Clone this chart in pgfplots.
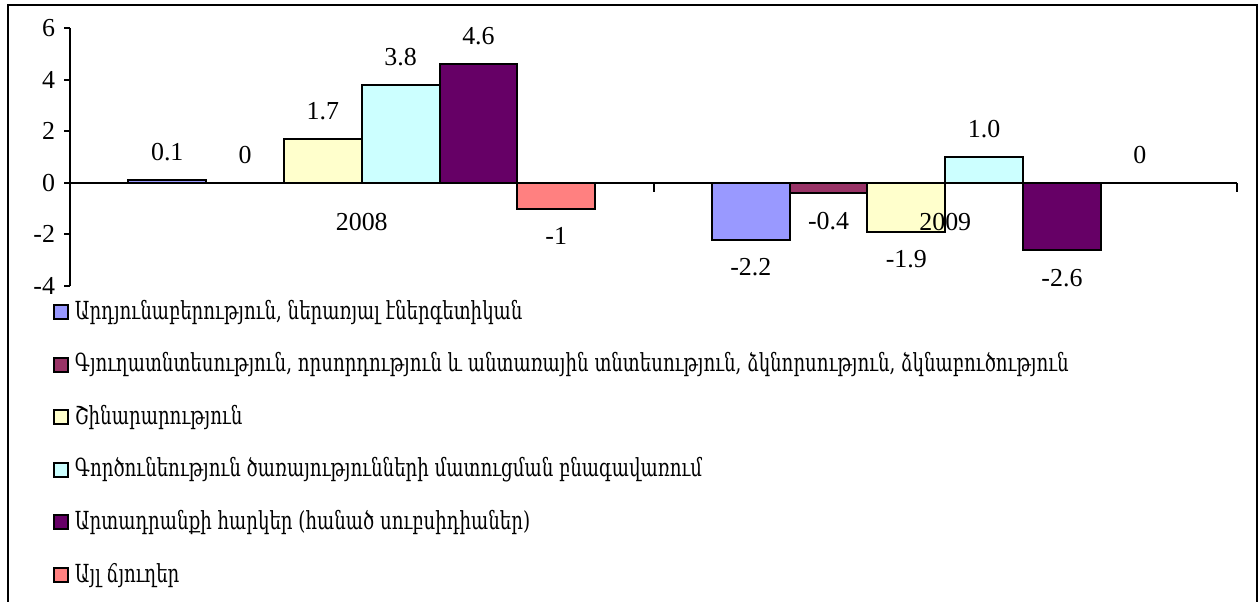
\documentclass[border=0pt]{standalone}
\usepackage{fontspec}
\setmainfont{Liberation Serif}
\newfontfamily\armfont[FakeStretch=0.73]{DejaVu Serif}
\usepackage{pgfplots}
\pgfplotsset{compat=1.18}
\definecolor{c1}{HTML}{9999FF}
\definecolor{c2}{HTML}{993366}
\definecolor{c3}{HTML}{FFFFCC}
\definecolor{c4}{HTML}{CCFFFF}
\definecolor{c5}{HTML}{660066}
\definecolor{c6}{HTML}{FF8080}
\begin{document}
\begin{tikzpicture}
\useasboundingbox (0,0) rectangle (630bp,-301bp);
\draw[line width=1.2bp] (4bp,-310bp) -- (4bp,-2.5bp) -- (628.5bp,-2.5bp) -- (628.5bp,-310bp);
\begin{axis}[
  at={(35bp,-143bp)}, anchor=south west,
  width=583.5bp, height=129bp, scale only axis,
  xmin=0, xmax=2, ymin=-4, ymax=6,
  axis y line*=left, axis x line*=middle,
  axis on top,
  axis line style={-, line width=1bp, black},
  ytick={-4,-2,0,2,4,6},
  yticklabels={{-4},{-2},0,2,4,6},
  y tick style={line width=1bp, black},
  tick align=outside, major tick length=3bp,
  xtick={0.5,1.5}, xticklabels={2008,2009},
  x tick style={draw=none},
  xticklabel style={inner sep=0pt, anchor=north, yshift=-12bp, font=\fontsize{13}{15}\selectfont},
  yticklabel style={font=\fontsize{13}{15}\selectfont, xshift=-1bp},
  ybar, bar width=0.13333,
  point meta=explicit symbolic,
  visualization depends on={rawy \as \rawy},
  nodes near coords,
  every node near coord/.append style={font=\fontsize{13}{15}\selectfont, inner ysep=9bp, inner xsep=0pt, black,
     anchor={\ifdim\rawy pt<0pt north\else south\fi}},
  clip=false,
  legend cell align=left,
  legend image code/.code={\draw[#1, draw=black, line width=1bp] (0bp,-3.5bp) rectangle (7bp,3.5bp);},
  legend style={at={(-0.01457,-0.0504)}, anchor=north west, draw=none, fill=none,
    inner sep=0pt, outer sep=0pt, row sep=13.3bp,
    font=\armfont\fontsize{12.5}{14}\selectfont,
    nodes={inner sep=0pt, text height=10bp, text depth=3bp},
    /tikz/every odd column/.append style={column sep=3bp}},
]
\addplot[fill=c1, draw=black, line width=1bp, bar shift=-0.33333] coordinates {(0.5,0.1) [0.1] (1.5,-2.2) [-2.2]};
\addplot[fill=c2, draw=black, line width=1bp, bar shift=-0.2] coordinates {(0.5,0) [0] (1.5,-0.4) [-0.4]};
\addplot[fill=c3, draw=black, line width=1bp, bar shift=-0.066667] coordinates {(0.5,1.7) [1.7] (1.5,-1.9) [-1.9]};
\addplot[fill=c4, draw=black, line width=1bp, bar shift=0.066667] coordinates {(0.5,3.8) [3.8] (1.5,1.0) [1.0]};
\addplot[fill=c5, draw=black, line width=1bp, bar shift=0.2] coordinates {(0.5,4.6) [4.6] (1.5,-2.6) [-2.6]};
\addplot[fill=c6, draw=black, line width=1bp, bar shift=0.33333] coordinates {(0.5,-1) [-1] (1.5,0) [0]};
\legend{{Արդյունաբերություն, ներառյալ էներգետիկան},
{Գյուղատնտեսություն, որսորդություն և անտառային տնտեսություն, ձկնորսություն, ձկնաբուծություն},
{Շինարարություն},
{Գործունեություն ծառայությունների մատուցման բնագավառում},
{Արտադրանքի հարկեր (հանած սուբսիդիաներ)},
{Այլ ճյուղեր}}
\draw[line width=1bp] (axis cs:1,0) -- ([yshift=-4.5bp]axis cs:1,0);
\draw[line width=1bp] (axis cs:2,0) -- ([yshift=-4.5bp]axis cs:2,0);
\end{axis}
\end{tikzpicture}
\end{document}
